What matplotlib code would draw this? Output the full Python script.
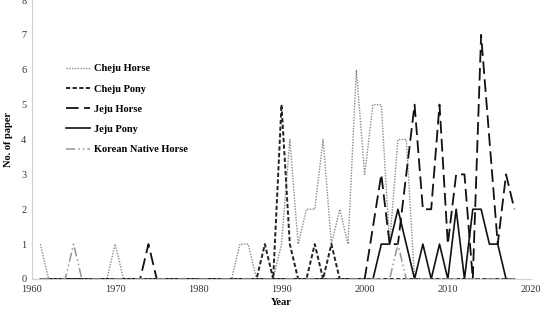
import numpy as np
import matplotlib
matplotlib.use("Agg")
import matplotlib.pyplot as plt

years = list(range(1961, 2019))

# None = no value for that year (Excel joins the neighbours with a straight line)
cheju_horse = {1961: 1, 1970: 1, 1985: 1, 1986: 1, 1990: 1, 1991: 4, 1992: 1,
               1993: 2, 1994: 2, 1995: 4, 1996: 1, 1997: 2, 1998: 1, 1999: 6,
               2000: 3, 2001: 5, 2002: 5, 2003: 1, 2004: 4, 2005: 4}
cheju_pony = {1988: 1, 1990: 5, 1991: 1, 1994: 1, 1996: 1}
jeju_horse = {1974: 1, 2001: None, 2002: 3, 2003: 1, 2004: 1, 2005: 3, 2006: 5,
              2007: 2, 2008: 2, 2009: 5, 2010: 1, 2011: 3, 2012: 3, 2013: 0,
              2014: 7, 2015: 4, 2016: 1, 2017: 3, 2018: 2}
jeju_pony = {2002: 1, 2003: 1, 2004: 2, 2005: 1, 2007: 1, 2009: 1, 2011: 2,
             2013: 2, 2014: 2, 2015: 1, 2016: 1}
korean_native = {1965: 1, 2004: 1}

series = [
    ("Cheju Horse", cheju_horse, dict(color="#8a8a8a", lw=1.0, ls=(0, (1, 1)))),
    ("Cheju Pony", cheju_pony, dict(color="#222222", lw=1.4, ls=(0, (2.2, 1.2)))),
    ("Jeju Horse", jeju_horse, dict(color="#111111", lw=1.3, ls=(0, (7, 3)))),
    ("Jeju Pony", jeju_pony, dict(color="#111111", lw=1.2, ls="-")),
    ("Korean Native Horse", korean_native,
     dict(color="#959595", lw=1.1, ls=(0, (6, 2, 1, 2, 1, 2)))),
]

plt.rcParams['font.family'] = ['Liberation Serif', 'DejaVu Serif']

fig = plt.figure(figsize=(5.44, 3.16), dpi=100)
ax = fig.add_axes([32 / 544, 1 - 279 / 316, 499 / 544, 279 / 316])

for name, vals, style in series:
    xs, ys = [], []
    for y in years:
        v = vals.get(y, 0)
        if v is None:
            continue
        xs.append(y)
        ys.append(v)
    ax.plot(xs, ys, label=name, **style)

ax.set_xlim(1960, 2020)
ax.set_ylim(0, 8)
ax.set_xticks(range(1960, 2021, 10))
ax.set_yticks(range(0, 9))
ax.tick_params(length=0, labelsize=7.5, labelcolor="#333333", pad=4)
for s in ["top", "right"]:
    ax.spines[s].set_visible(False)
for s in ["left", "bottom"]:
    ax.spines[s].set_color("#d0d0d0")
    ax.spines[s].set_linewidth(0.8)

ax.set_xlabel("Year", fontsize=7.5, fontweight="bold", labelpad=3)
ax.set_ylabel("No. of paper", fontsize=7.5, fontweight="bold", labelpad=6)

leg = fig.legend(loc="upper left", bbox_to_anchor=(66 / 544, 1 - 64 / 316),
                 frameon=False, prop={"weight": "bold", "size": 7.5},
                 handlelength=2.3, handletextpad=0.4, labelspacing=1.05,
                 borderpad=0, borderaxespad=0)

fig.savefig("out.png", dpi=100)
